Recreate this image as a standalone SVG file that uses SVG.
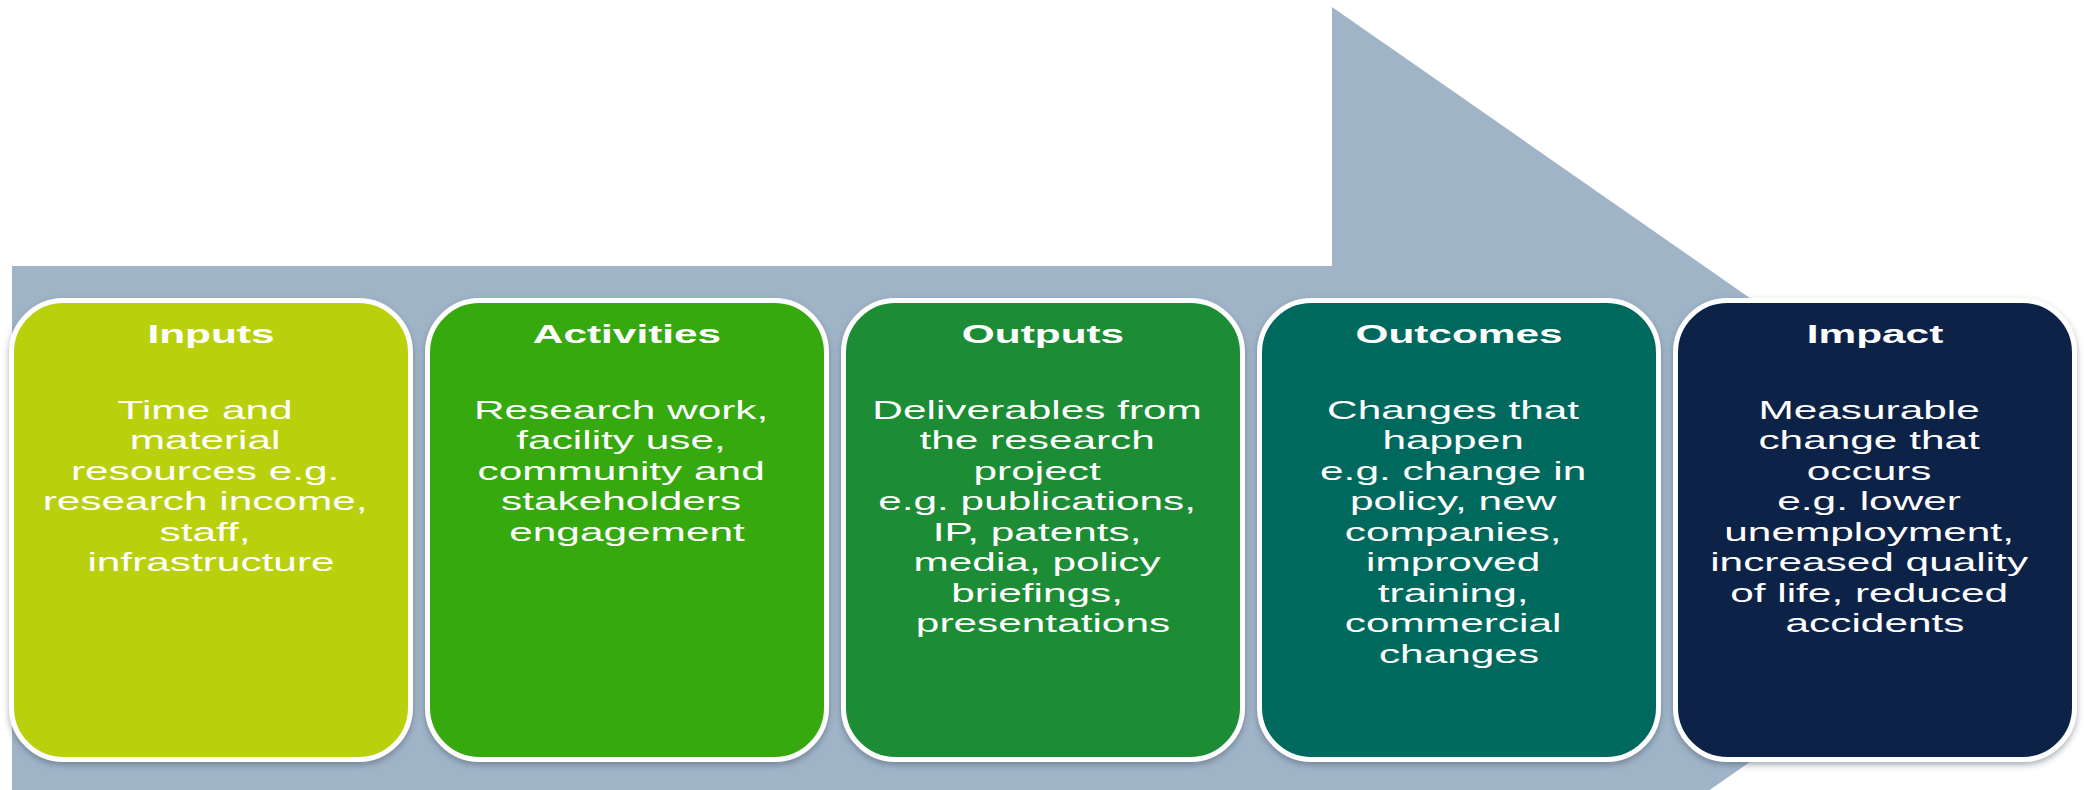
<svg xmlns="http://www.w3.org/2000/svg" width="2084" height="790" viewBox="0 0 2084 790">
  <defs>
    <filter id="shadow" x="-5%" y="-5%" width="110%" height="112%">
      <feDropShadow dx="0" dy="3" stdDeviation="3" flood-color="#3a4a5a" flood-opacity="0.45"/>
    </filter>
    <style>
      .box { stroke: #ffffff; stroke-width: 5; filter: url(#shadow); }
      .title { font-family: "Liberation Sans", Arial, sans-serif; font-weight: bold; font-size: 26px; fill: #ffffff; text-anchor: middle; }
      .body { font-family: "Liberation Sans", Arial, sans-serif; font-size: 26px; fill: #ffffff; text-anchor: middle; }
    </style>
  </defs>
  <rect width="2084" height="790" fill="#ffffff"/>
  <polygon id="flow-arrow" points="12,266 1332,266 1332,7 2060,514 2060,546 1332,1053 12,1053" fill="#A0B4C8"/>

  <g id="inputs">
    <rect class="box" x="11.5" y="300.5" width="399" height="459" rx="52" fill="#B9D10C"/>
    <g transform="translate(211,0) scale(1.63,1)">
      <text class="title" x="0" y="343">Inputs</text>
      <text class="body">
        <tspan x="0" y="419">Time and</tspan>
        <tspan x="0" y="449.5">material</tspan>
        <tspan x="0" y="480">resources e.g.</tspan>
        <tspan x="0" y="510.5">research income,</tspan>
        <tspan x="0" y="541">staff,</tspan>
        <tspan x="0" y="571.5">infrastructure</tspan>
      </text>
    </g>
  </g>

  <g id="activities">
    <rect class="box" x="427.5" y="300.5" width="399" height="459" rx="52" fill="#36A90F"/>
    <g transform="translate(627,0) scale(1.63,1)">
      <text class="title" x="0" y="343">Activities</text>
      <text class="body">
        <tspan x="0" y="419">Research work,</tspan>
        <tspan x="0" y="449.5">facility use,</tspan>
        <tspan x="0" y="480">community and</tspan>
        <tspan x="0" y="510.5">stakeholders</tspan>
        <tspan x="0" y="541">engagement</tspan>
      </text>
    </g>
  </g>

  <g id="outputs">
    <rect class="box" x="843.5" y="300.5" width="399" height="459" rx="52" fill="#1A8C35"/>
    <g transform="translate(1043,0) scale(1.63,1)">
      <text class="title" x="0" y="343">Outputs</text>
      <text class="body">
        <tspan x="0" y="419">Deliverables from</tspan>
        <tspan x="0" y="449.5">the research</tspan>
        <tspan x="0" y="480">project</tspan>
        <tspan x="0" y="510.5">e.g. publications,</tspan>
        <tspan x="0" y="541">IP, patents,</tspan>
        <tspan x="0" y="571.5">media, policy</tspan>
        <tspan x="0" y="602">briefings,</tspan>
        <tspan x="0" y="632.5">presentations</tspan>
      </text>
    </g>
  </g>

  <g id="outcomes">
    <rect class="box" x="1259.5" y="300.5" width="399" height="459" rx="52" fill="#05695D"/>
    <g transform="translate(1459,0) scale(1.63,1)">
      <text class="title" x="0" y="343">Outcomes</text>
      <text class="body">
        <tspan x="0" y="419">Changes that</tspan>
        <tspan x="0" y="449.5">happen</tspan>
        <tspan x="0" y="480">e.g. change in</tspan>
        <tspan x="0" y="510.5">policy, new</tspan>
        <tspan x="0" y="541">companies,</tspan>
        <tspan x="0" y="571.5">improved</tspan>
        <tspan x="0" y="602">training,</tspan>
        <tspan x="0" y="632.5">commercial</tspan>
        <tspan x="0" y="663">changes</tspan>
      </text>
    </g>
  </g>

  <g id="impact">
    <rect class="box" x="1675.5" y="300.5" width="399" height="459" rx="52" fill="#0B2346"/>
    <g transform="translate(1875,0) scale(1.63,1)">
      <text class="title" x="0" y="343">Impact</text>
      <text class="body">
        <tspan x="0" y="419">Measurable</tspan>
        <tspan x="0" y="449.5">change that</tspan>
        <tspan x="0" y="480">occurs</tspan>
        <tspan x="0" y="510.5">e.g. lower</tspan>
        <tspan x="0" y="541">unemployment,</tspan>
        <tspan x="0" y="571.5">increased quality</tspan>
        <tspan x="0" y="602">of life, reduced</tspan>
        <tspan x="0" y="632.5">accidents</tspan>
      </text>
    </g>
  </g>
</svg>
